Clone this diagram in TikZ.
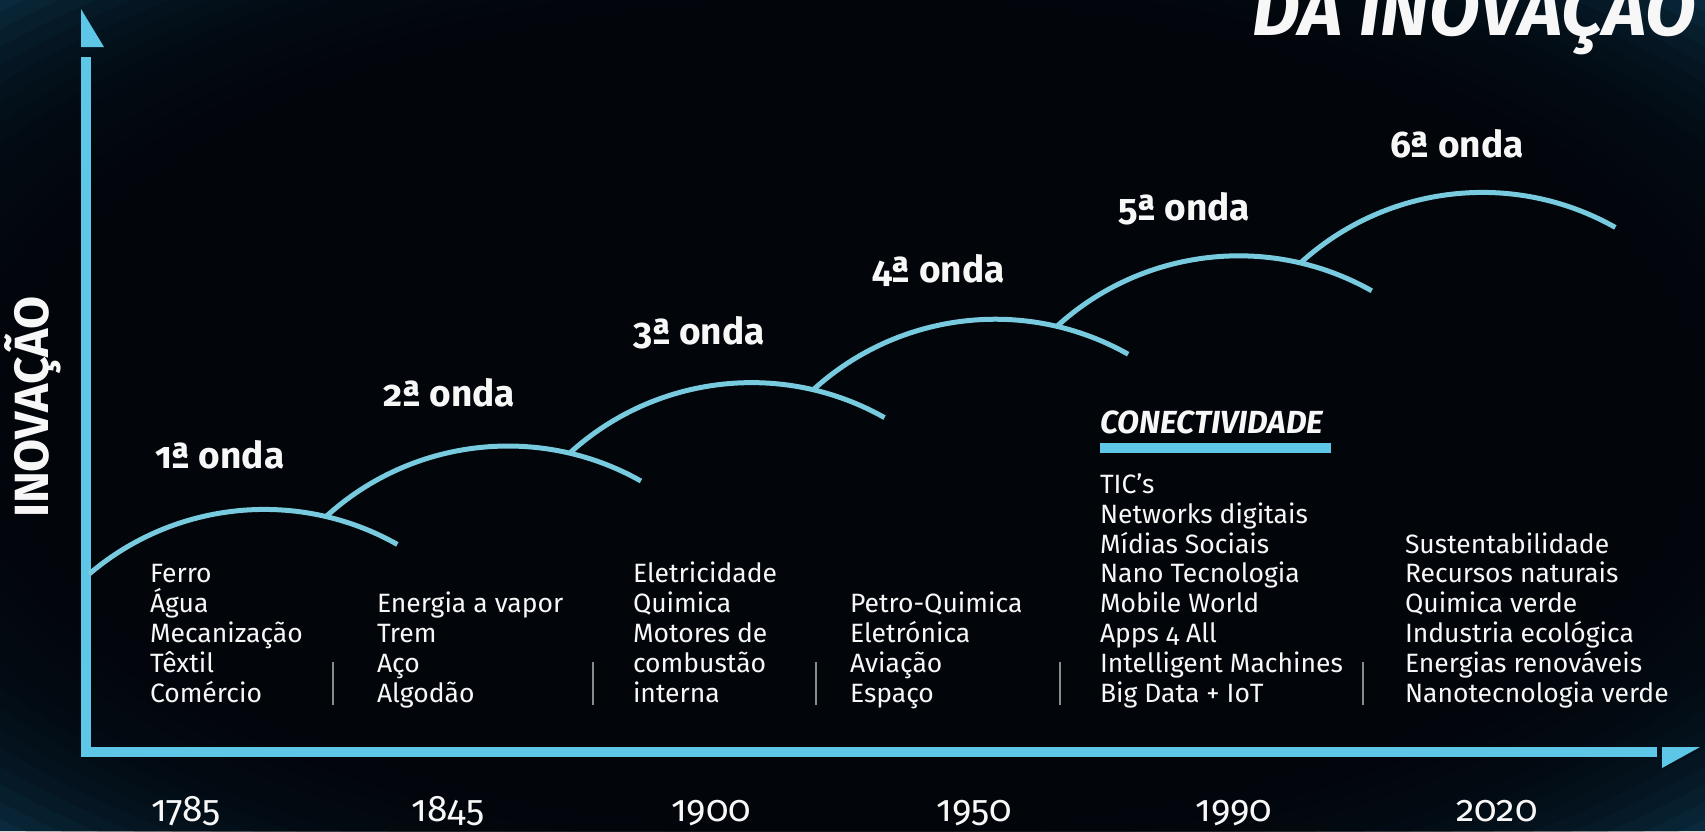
\documentclass[tikz,border=0pt]{standalone}
\usepackage{fontspec}
\setmainfont{Fira Sans}[Numbers=OldStyle]
\definecolor{bgdark}{HTML}{020509}
\definecolor{bgblue}{HTML}{0C3048}
\definecolor{axisblue}{HTML}{5EC6E6}
\definecolor{wavecol}{HTML}{78CBDF}
\definecolor{sepgray}{HTML}{8A8A8A}
\definecolor{txt}{HTML}{F7F7F7}
\begin{document}
\begin{tikzpicture}[x=1pt,y=-1pt,
  every node/.style={inner sep=0pt, outer sep=0pt, text=txt},
  wave/.style={wavecol, line width=5pt},
  axisline/.style={axisblue, line width=10pt},
  sepline/.style={sepgray, line width=1.3pt},
  onda/.style={anchor=base west, font=\fontsize{37}{40}\selectfont\bfseries},
  yearlbl/.style={anchor=base, font=\fontsize{37}{40}\selectfont},
  item/.style={anchor=base west, font=\fontsize{26.5}{29.8}\selectfont}]
% background
\useasboundingbox (0,0) rectangle (1705,831);
\clip (0,0) rectangle (1705,831);
\fill[bgblue] (0,0) rectangle (1705,831);
\foreach \s in {1.00,0.98,...,0.60}
  \fill[bgdark, opacity=0.16] (852.5,415.5) ellipse [x radius={1210*\s}, y radius={592*\s}];
% axes
\coordinate (ytop) at (86,57);
\coordinate (origin) at (86,752);
\coordinate (xend) at (1657,752);
\draw[axisline] (ytop) -- (origin) -- (xend);
\fill[axisblue] (81,9) -- (81,47) -- (104,47) -- cycle;
\fill[axisblue] (1662,747) -- (1700,747) -- (1662,768) -- cycle;
% waves
\foreach \k in {0,...,5}{
  \pgfmathsetmacro\cx{264.4+243.6*\k}
  \pgfmathsetmacro\cy{779.4-63.4*\k}
  \ifnum\k=0 \def\sa{-130.5}\else\def\sa{-132.45}\fi
  \draw[wave] (\cx,\cy) ++(\sa:270) arc[start angle=\sa, end angle=-60.5, radius=270];
}
% wave labels
\node[onda] (w1) at (155,468) {1ª onda};
\node[onda] (w2) at (383,406) {2ª onda};
\node[onda] (w3) at (633,344) {3ª onda};
\node[onda] (w4) at (872,282) {4ª onda};
\node[onda] (w5) at (1118,220) {5ª onda};
\node[onda] (w6) at (1390,157) {6ª onda};
% title and axis label
\node[anchor=base east, font=\fontsize{74}{76}\selectfont\bfseries\itshape] (title) at (1696,35) {DA INOVAÇÃO};
\node[rotate=90, anchor=base, font=\fontsize{48}{50}\selectfont\bfseries] (ylabel) at (48,407) {INOVAÇÃO};
% columns
\foreach \t [count=\i] in {Ferro, Água, Mecanização, Têxtil, Comércio}
  \node[item] (a\i) at (150,{702-29.8*(5-\i)}) {\t};
\foreach \t [count=\i] in {Energia a vapor, Trem, Aço, Algodão}
  \node[item] (b\i) at (377,{702-29.8*(4-\i)}) {\t};
\foreach \t [count=\i] in {Eletricidade, Quimica, Motores de, combustão, interna}
  \node[item] (c\i) at (633,{702-29.8*(5-\i)}) {\t};
\foreach \t [count=\i] in {Petro-Quimica, Eletrónica, Aviação, Espaço}
  \node[item] (d\i) at (850,{702-29.8*(4-\i)}) {\t};
\foreach \t [count=\i] in {TIC’s, Networks digitais, Mídias Sociais, Nano Tecnologia, Mobile World, Apps 4 All, Intelligent Machines, Big Data + IoT}
  \node[item] (e\i) at (1100,{702-29.8*(8-\i)}) {\t};
\foreach \t [count=\i] in {Sustentabilidade, Recursos naturais, Quimica verde, Industria ecológica, Energias renováveis, Nanotecnologia verde}
  \node[item] (f\i) at (1405,{702-29.8*(6-\i)}) {\t};
\node[anchor=base west, font=\fontsize{32}{34}\selectfont\bfseries\itshape] (conect) at (1100,433) {CONECTIVIDADE};
\fill[axisblue] (1100,443) rectangle (1331,453);
% separators
\foreach \sx in {333,593,816,1060,1363}
  \draw[sepline] (\sx,662) -- (\sx,705);
% years
\node[yearlbl] (y1) at (186,821) {1785};
\node[yearlbl] (y2) at (448,821) {1845};
\node[yearlbl] (y3) at (711,821) {1900};
\node[yearlbl] (y4) at (974,821) {1950};
\node[yearlbl] (y5) at (1234,821) {1990};
\node[yearlbl] (y6) at (1497,821) {2020};
\end{tikzpicture}
\end{document}
